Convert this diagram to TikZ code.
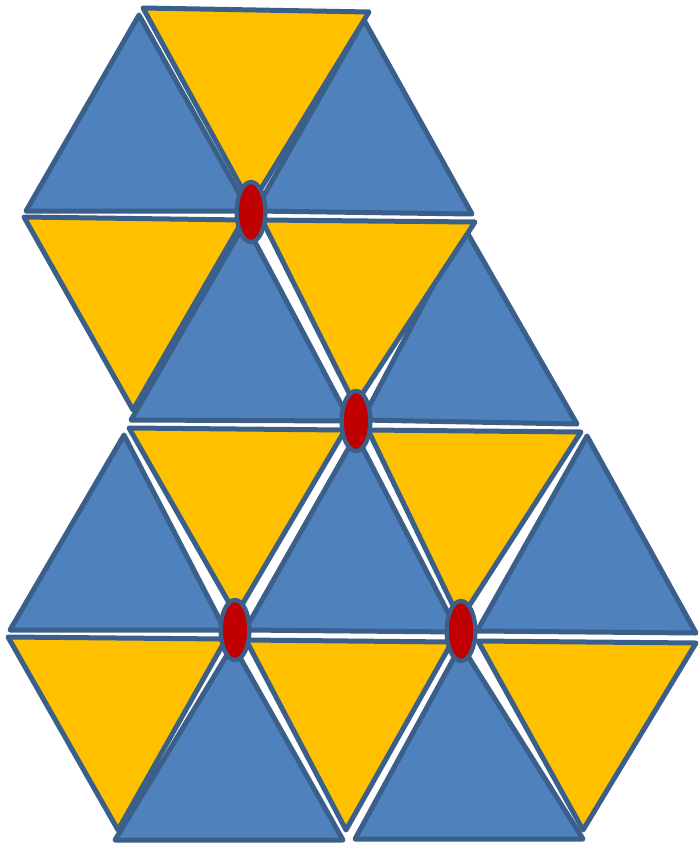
\documentclass[tikz,border=0pt]{standalone}
\usetikzlibrary{shapes.geometric}
\definecolor{triblue}{HTML}{4F81BD}
\definecolor{triyellow}{HTML}{FFC000}
\definecolor{triedge}{HTML}{3A5F8B}
\definecolor{hubred}{HTML}{C00000}
\begin{document}
\begin{tikzpicture}[x=0.03cm,y=-0.03cm,line width=0.15cm,line join=round,
  bluetri/.style={fill=triblue,draw=triedge},
  yellowtri/.style={fill=triyellow,draw=triedge},
  hub/.style={ellipse,fill=hubred,draw=triedge,line width=0.13cm,inner sep=0pt,
    minimum width=0.86cm,minimum height=1.8cm}]
\useasboundingbox (0,0) rectangle (698,846);
% blaue Dreiecke (Spitze oben)
\foreach \ax/\ay/\bx/\by/\cx/\cy in {
  139/15/26/211/249/211, 364/20/255/211/472/214,
  245/223/131/420/350/421, 464/227/362/420/577/424,
  124/435/10/630/225/630, 356/435/245/630/458/632, 587/436/477/631/696/633,
  233/645/115/840/343/840, 461/645/355/839/583/839}
  \draw[bluetri] (\ax,\ay) -- (\bx,\by) -- (\cx,\cy) -- cycle;
% gelbe Dreiecke (Spitze unten)
\foreach \ax/\ay/\bx/\by/\cx/\cy in {
  143/8/369/12/251/205,
  24/217/243/220/133/410, 262/220/475/222/355/405,
  129/428/345/430/236/615, 368/430/581/432/460/620,
  8/637/226/639/118/830, 246/640/452/642/346/830, 478/641/696/643/583/830}
  \draw[yellowtri] (\ax,\ay) -- (\bx,\by) -- (\cx,\cy) -- cycle;
% rote Knoten
\node[hub] (h1) at (251,212) {};
\node[hub] (h2) at (356,421) {};
\node[hub] (h3) at (235,630) {};
\node[hub] (h4) at (461,631) {};
\end{tikzpicture}
\end{document}
